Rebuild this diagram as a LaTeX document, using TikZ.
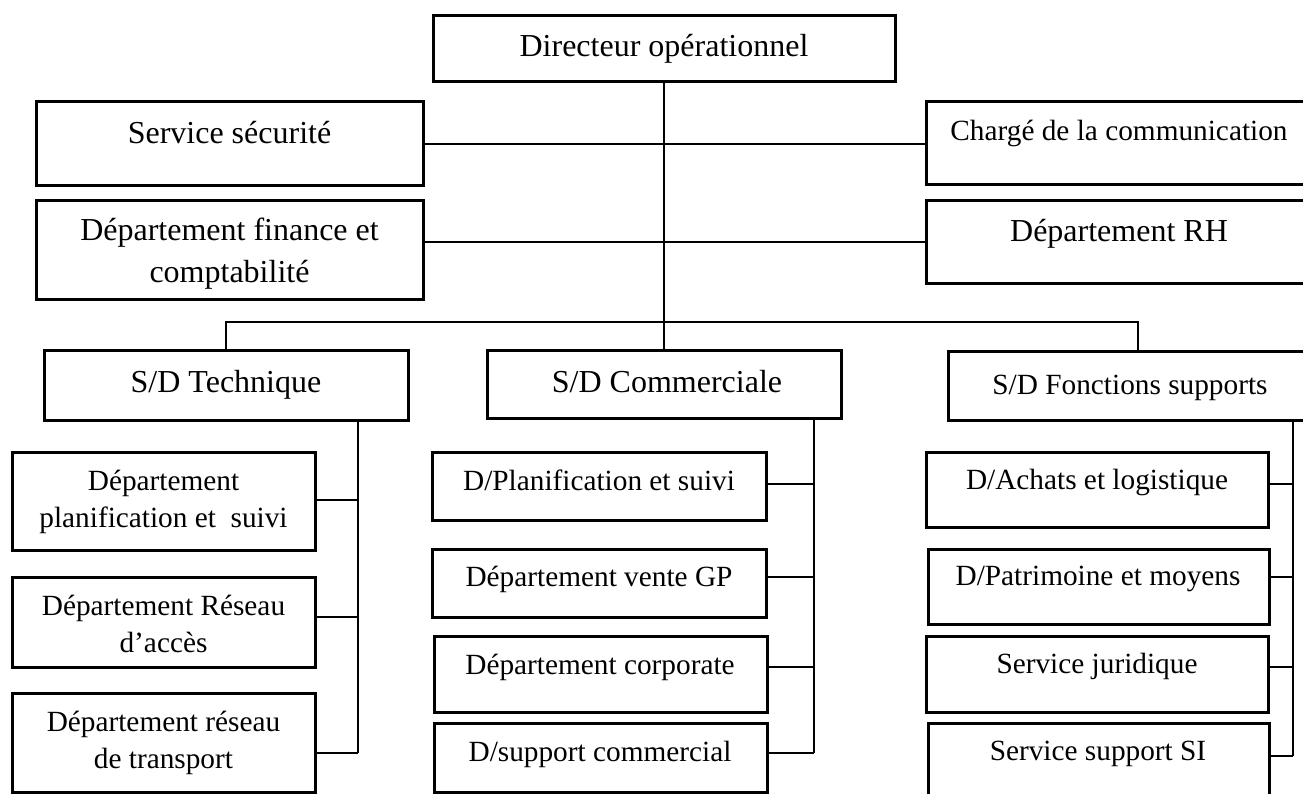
\documentclass[tikz,border=0pt]{standalone}
\usepackage{fontspec}
\setmainfont{Liberation Serif}
\usetikzlibrary{fit}
\begin{document}
\begin{tikzpicture}[x=1pt,y=-1pt,
  orgbox/.style={draw=black, line width=3pt, inner sep=0pt, rectangle},
  big/.style={anchor=base, inner sep=0pt, align=center, font={\fontsize{32}{42}\selectfont}},
  small/.style={anchor=base, inner sep=0pt, align=center, font={\fontsize{29.3}{37}\selectfont}},
  link/.style={draw=black, line width=1.3pt}]
\path[use as bounding box, fill=white] (0,0) rectangle (1303,794);

% Direction and staff services (two-line labels sit on their last baseline)
\node[orgbox, fit={(433,16)(895,82)}] (dir) {};
\node[big] (dirT) at (664,57) {Directeur opérationnel};
\node[orgbox, fit={(36,102)(423,186)}] (sec) {};
\node[big] (secT) at (229.5,144) {Service sécurité};
\node[orgbox, fit={(926,102)(1312,185)}] (com) {};
\node[small] (comT) at (1119,141) {Chargé de la communication};
\node[orgbox, fit={(36,201)(423,299)}] (fin) {};
\node[big] (finT) at (229.5,283) {Département finance et\\comptabilité};
\node[orgbox, fit={(926,201)(1312,283)}] (rh) {};
\node[big] (rhT) at (1119,242) {Département RH};

% Sub-directions
\node[orgbox, fit={(44,350)(408,420)}] (tech) {};
\node[big] (techT) at (226,392) {S/D Technique};
\node[orgbox, fit={(487,350)(841,418)}] (comm) {};
\node[big] (commT) at (667,392) {S/D Commerciale};
\node[orgbox, fit={(948,351)(1312,420)}] (supp) {};
\node[small] (suppT) at (1130,394) {S/D Fonctions supports};

% Technical departments
\node[orgbox, fit={(12,452)(315,550)}] (t1) {};
\node[small] (t1T) at (163.5,527) {Département\\planification et\ \ suivi};
\node[orgbox, fit={(12,577)(315,667)}] (t2) {};
\node[small] (t2T) at (163.5,652) {Département Réseau\\d’accès};
\node[orgbox, fit={(12,693)(315,792)}] (t3) {};
\node[small] (t3T) at (163.5,768) {Département réseau\\de transport};

% Commercial departments
\node[orgbox, fit={(432,452)(766,520)}] (c1) {};
\node[small] (c1T) at (599,490) {D/Planification et suivi};
\node[orgbox, fit={(432,549)(766,617)}] (c2) {};
\node[small] (c2T) at (599,586) {Département vente GP};
\node[orgbox, fit={(434,636)(767,712)}] (c3) {};
\node[small] (c3T) at (600,674) {Département corporate};
\node[orgbox, fit={(434,723)(767,792)}] (c4) {};
\node[small] (c4T) at (600,761) {D/support commercial};

% Support functions
\node[orgbox, fit={(926,452)(1268,527)}] (s1) {};
\node[small] (s1T) at (1097,489) {D/Achats et logistique};
\node[orgbox, fit={(928,549)(1269,624)}] (s2) {};
\node[small] (s2T) at (1098,585) {D/Patrimoine et moyens};
\node[orgbox, fit={(926,636)(1268,712)}] (s3) {};
\node[small] (s3T) at (1097,673) {Service juridique};
\node[orgbox, fit={(928,723)(1269,812)}] (s4) {};
\node[small] (s4T) at (1098,760) {Service support SI};

% Junction points
\coordinate (bus) at (664,322);
\coordinate (suppTop) at (1138,351);
\coordinate (tj1) at (358,500);
\coordinate (tj2) at (358,617);
\coordinate (tj3) at (358,753);
\coordinate (cj1) at (814,484);
\coordinate (cj2) at (814,577);
\coordinate (cj3) at (814,667);
\coordinate (cj4) at (814,753);
\coordinate (sj1) at (1293,484);
\coordinate (sj2) at (1293,577);
\coordinate (sj3) at (1293,667);
\coordinate (sj4) at (1293,756);

% Upper links
\draw[link] (dir.south) -- (bus);
\draw[link] (sec.east) -- (sec.east -| com.west);
\draw[link] (fin.east |- rh.west) -- (rh.west);
\draw[link] (tech.north) |- (bus) -| (suppTop);
\draw[link] (bus) -- (comm.north);

% Technical branch
\draw[link] (tech.south -| tj1) -- (tj3);
\draw[link] (t1.east |- tj1) -- (tj1);
\draw[link] (t2.east |- tj2) -- (tj2);
\draw[link] (t3.east |- tj3) -- (tj3);

% Commercial branch
\draw[link] (comm.south -| cj1) -- (cj4);
\draw[link] (c1.east |- cj1) -- (cj1);
\draw[link] (c2.east |- cj2) -- (cj2);
\draw[link] (c3.east |- cj3) -- (cj3);
\draw[link] (c4.east |- cj4) -- (cj4);

% Support branch
\draw[link] (supp.south -| sj1) -- (sj4);
\draw[link] (s1.east |- sj1) -- (sj1);
\draw[link] (s2.east |- sj2) -- (sj2);
\draw[link] (s3.east |- sj3) -- (sj3);
\draw[link] (s4.east |- sj4) -- (sj4);
\end{tikzpicture}
\end{document}
